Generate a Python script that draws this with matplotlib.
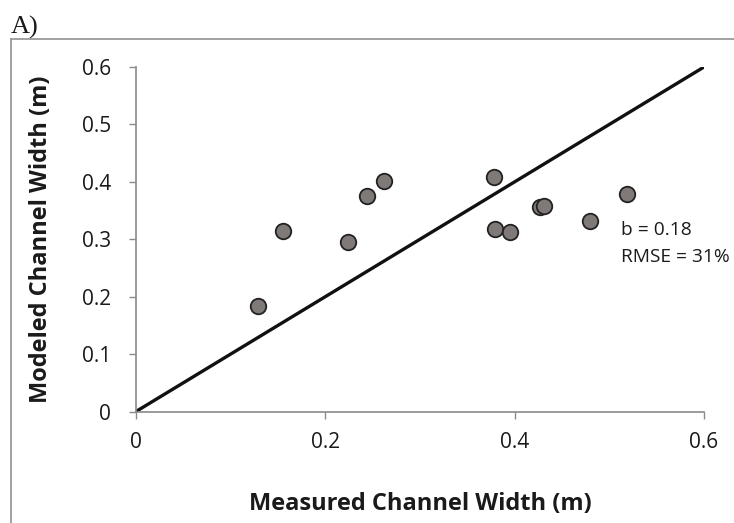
import matplotlib.pyplot as plt
from matplotlib.lines import Line2D

# measured vs modeled channel width (m)
measured = [0.129, 0.155, 0.224, 0.244, 0.262, 0.378, 0.379, 0.395, 0.427, 0.431, 0.480, 0.519]
modeled  = [0.183, 0.314, 0.296, 0.376, 0.402, 0.409, 0.317, 0.313, 0.357, 0.358, 0.332, 0.378]
one_to_one = [0.0, 0.6]
ticks_x = [0, 0.2, 0.4, 0.6]
ticks_y = [0, 0.1, 0.2, 0.3, 0.4, 0.5, 0.6]
stats_text = "b = 0.18\nRMSE = 31%"

plt.rcParams['font.family'] = ['Open Sans', 'DejaVu Sans']

W, H = 734, 523
fig = plt.figure(figsize=(W / 100, H / 100), dpi=100)
ax = fig.add_axes([136 / W, 1 - 411.5 / H, (704 - 136) / W, (411.5 - 67) / H])

ax.plot(one_to_one, one_to_one, color="#111111", lw=2.4, solid_capstyle="round", zorder=2)
ax.scatter(measured, modeled, s=125, facecolor="#7f7a77", edgecolor="#222222",
           linewidth=1.3, zorder=3)

ax.set_xlim(0, 0.6)
ax.set_ylim(0, 0.6)
ax.set_xticks(ticks_x)
ax.set_xticklabels(["0", "0.2", "0.4", "0.6"])
ax.set_yticks(ticks_y)
ax.set_yticklabels(["0", "0.1", "0.2", "0.3", "0.4", "0.5", "0.6"])
ax.tick_params(axis="both", direction="out", length=5, width=1, color="#8a8a8a",
               labelsize=15, labelcolor="#1a1a1a")
ax.tick_params(axis="x", pad=10)
ax.tick_params(axis="y", pad=13)
for side in ("top", "right"):
    ax.spines[side].set_visible(False)
for side in ("left", "bottom"):
    ax.spines[side].set_color("#8a8a8a")
    ax.spines[side].set_linewidth(1.2)
ax.patch.set_alpha(0)

ax.set_xlabel("Measured Channel Width (m)", fontsize=17, fontweight="bold",
              color="#1a1a1a", labelpad=28)
ax.set_ylabel("Modeled Channel Width (m)", fontsize=17, fontweight="bold",
              color="#1a1a1a", labelpad=21)

ax.text(0.512, 0.331, stats_text, fontsize=13.8, color="#1a1a1a", va="top",
        linespacing=1.6)

# panel frame (left and top edges only) and panel letter
fig.add_artist(Line2D([11 / W, 11 / W], [0, 1 - 39 / H], transform=fig.transFigure,
                      color="#9a9a9a", lw=1.3))
fig.add_artist(Line2D([11 / W, 1], [1 - 39 / H, 1 - 39 / H], transform=fig.transFigure,
                      color="#9a9a9a", lw=1.3))
fig.text(11 / W, 1 - 34 / H, "A)", fontsize=19, family="Liberation Serif",
         color="#1a1a1a", va="baseline")

fig.savefig("out.png", dpi=100)
